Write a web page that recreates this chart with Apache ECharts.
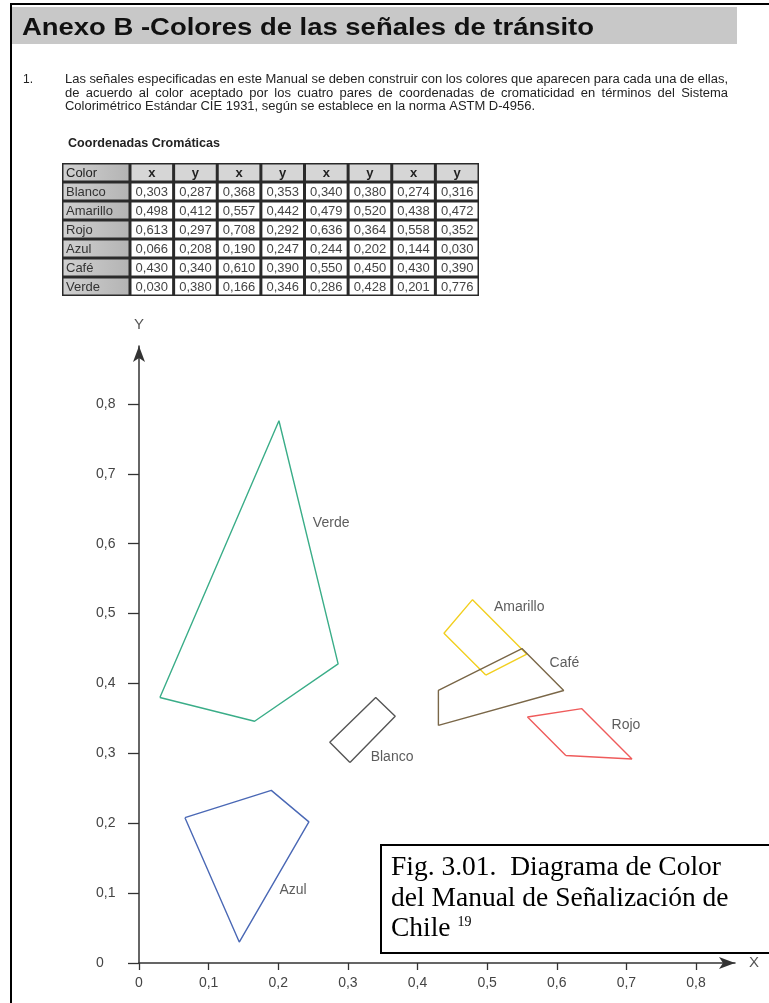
<!DOCTYPE html>
<html><head><meta charset="utf-8">
<script src="https://cdn.jsdelivr.net/npm/echarts@6/dist/echarts.min.js"></script>
<style>html,body{margin:0;padding:0;background:#fff}#c{width:769px;height:1003px}</style>
</head><body><div id="c"></div>
<script>
// ---- data ----
const colorNames = ['Blanco', 'Amarillo', 'Rojo', 'Azul', 'Café', 'Verde'];
const blanco   = [[0.303, 0.287], [0.368, 0.353], [0.340, 0.380], [0.274, 0.316]];
const amarillo = [[0.498, 0.412], [0.557, 0.442], [0.479, 0.520], [0.438, 0.472]];
const rojo     = [[0.613, 0.297], [0.708, 0.292], [0.636, 0.364], [0.558, 0.352]];
const azul     = [[0.066, 0.208], [0.190, 0.247], [0.244, 0.202], [0.144, 0.030]];
const cafe     = [[0.430, 0.340], [0.610, 0.390], [0.550, 0.450], [0.430, 0.390]];
const verde    = [[0.030, 0.380], [0.166, 0.346], [0.286, 0.428], [0.201, 0.776]];
const polygons = [blanco, amarillo, rojo, azul, cafe, verde];
const lineColors = ['#555555', '#f2cf1f', '#ef5b5b', '#4a68b5', '#7a6748', '#3aad88'];
const labelPos = [[0.332, 0.295], [0.509, 0.509], [0.678, 0.340], [0.201, 0.104], [0.589, 0.429], [0.249, 0.629]];
const tableHeader = ['Color', 'x', 'y', 'x', 'y', 'x', 'y', 'x', 'y'];
const axisTicks = [0, 0.1, 0.2, 0.3, 0.4, 0.5, 0.6, 0.7, 0.8];
const titleText = 'Anexo B -Colores de las señales de tránsito';
const paraLines = [
  'Las señales especificadas en este Manual se deben construir con los colores que aparecen para cada una de ellas,',
  'de acuerdo al color aceptado por los cuatro pares de coordenadas de cromaticidad en términos del Sistema',
  'Colorimétrico Estándar CIE 1931, según se establece en la norma ASTM D-4956.'
];
const subTitle = 'Coordenadas Cromáticas';
const captionLines = ['Fig. 3.01.  Diagrama de Color', 'del Manual de Señalización de', 'Chile {sup|19}'];

// ---- helpers ----
const cv = document.createElement('canvas').getContext('2d');
function measure(t, size, weight, family) {
  cv.font = (weight || 'normal') + ' ' + size + 'px ' + family;
  return cv.measureText(t).width;
}
const SANS = '"Liberation Sans", Arial, sans-serif';
const SERIF = '"Liberation Serif", "Times New Roman", serif';
const fmt3 = v => v.toFixed(3).replace('.', ',');
const fmtAxis = v => v === 0 ? '0' : v.toFixed(1).replace('.', ',');

const graphics = [];
// page borders
graphics.push({type: 'rect', shape: {x: 10, y: 3, width: 759, height: 2}, style: {fill: '#000'}, silent: true});
graphics.push({type: 'rect', shape: {x: 10, y: 3, width: 2, height: 1000}, style: {fill: '#000'}, silent: true});
// header band
graphics.push({type: 'rect', shape: {x: 12, y: 7, width: 725, height: 37}, style: {fill: '#c8c8c8'}, silent: true});
{
  const w = measure(titleText, 24, 'bold', SANS);
  graphics.push({type: 'text', x: 22, y: 28, scaleX: 572 / w, silent: true,
    style: {text: titleText, fontSize: 24, fontWeight: 'bold', fontFamily: SANS, fill: '#111', textVerticalAlign: 'middle'}});
}
// paragraph
const PS = 12;
const kPara = 470 / measure(paraLines[2], PS, 'normal', SANS);
graphics.push({type: 'text', x: 23, y: 80, silent: true,
  style: {text: '1.', fontSize: PS, fontFamily: SANS, fill: '#222', textVerticalAlign: 'middle'}});
const lineYs = [80, 94, 107];
paraLines.forEach((line, li) => {
  if (li < 2) {
    const words = line.split(' ');
    const ws = words.map(w => measure(w, PS, 'normal', SANS) * kPara);
    const total = ws.reduce((a, b) => a + b, 0);
    const gap = (663 - total) / (words.length - 1);
    let x = 65;
    words.forEach((w, i) => {
      graphics.push({type: 'text', x: x, y: lineYs[li], scaleX: kPara, silent: true,
        style: {text: w, fontSize: PS, fontFamily: SANS, fill: '#222', textVerticalAlign: 'middle'}});
      x += ws[i] + gap;
    });
  } else {
    graphics.push({type: 'text', x: 65, y: lineYs[li], scaleX: kPara, silent: true,
      style: {text: line, fontSize: PS, fontFamily: SANS, fill: '#222', textVerticalAlign: 'middle'}});
  }
});
{
  const w = measure(subTitle, 12, 'bold', SANS);
  graphics.push({type: 'text', x: 68, y: 144, scaleX: 152 / w, silent: true,
    style: {text: subTitle, fontSize: 12, fontWeight: 'bold', fontFamily: SANS, fill: '#222', textVerticalAlign: 'middle'}});
}
// table
{
  const tx = 62, ty = 163, c0 = 68, cw = (479 - 62 - 68) / 8, rh = 19;
  const tw = c0 + cw * 8, th = rh * 7;
  graphics.push({type: 'rect', shape: {x: tx, y: ty, width: tw, height: th}, style: {fill: '#2a2a2a'}, silent: true});
  for (let r = 0; r < 7; r++) {
    for (let c = 0; c < 9; c++) {
      const x = c === 0 ? tx : tx + c0 + (c - 1) * cw;
      const w = c === 0 ? c0 : cw;
      const y = ty + r * rh;
      let fill = '#ffffff';
      if (r === 0 && c > 0) fill = '#d6d6d6';
      if (c === 0) fill = new echarts.graphic.LinearGradient(0, 0, 1, 0, [{offset: 0, color: '#d0d0d0'}, {offset: 1, color: '#b4b4b4'}]);
      graphics.push({type: 'rect', shape: {x: x + 1.5, y: y + 1.5, width: w - 3, height: rh - 3}, style: {fill: fill}, silent: true});
      let text, align, weight = 'normal', color = '#444';
      if (r === 0) {
        text = tableHeader[c];
        align = c === 0 ? 'left' : 'center';
        weight = c === 0 ? 'normal' : 'bold';
        color = '#222';
      } else if (c === 0) {
        text = colorNames[r - 1]; align = 'left'; color = '#333';
      } else {
        const p = polygons[r - 1][Math.floor((c - 1) / 2)];
        text = fmt3(p[(c - 1) % 2]); align = 'center';
      }
      graphics.push({type: 'text', x: align === 'left' ? x + 4 : x + w / 2, y: y + rh / 2 + 0.5, silent: true,
        style: {text: text, fontSize: 13, fontWeight: weight, fontFamily: SANS, fill: color,
          textAlign: align, textVerticalAlign: 'middle'}});
    }
  }
}
// caption box
graphics.push({type: 'rect', z: 100, shape: {x: 381, y: 845, width: 400, height: 108},
  style: {fill: '#fff', stroke: '#000', lineWidth: 2}, silent: true});
const capYs = [868, 899, 929];
captionLines.forEach((t, i) => {
  graphics.push({type: 'text', z: 101, x: 391, y: capYs[i], silent: true,
    style: {text: t, fontSize: 27.5, fontFamily: SERIF, fill: '#000', textVerticalAlign: 'middle',
      rich: {sup: {fontSize: 14, fontFamily: SERIF, fill: '#000', verticalAlign: 'top', padding: [0, 0, 12, 0]}}}});
});

// ---- chart ----
const series = polygons.map((pts, i) => ({
  type: 'line', name: colorNames[i], data: pts.concat([pts[0]]),
  symbol: 'none', showSymbol: false, silent: true, z: 3,
  lineStyle: {color: lineColors[i], width: 1.4}
}));
series.push({
  type: 'scatter', symbolSize: 1, silent: true, z: 4,
  itemStyle: {color: 'rgba(0,0,0,0)'},
  data: colorNames.map((n, i) => ({name: n, value: labelPos[i]})),
  label: {show: true, position: 'right', distance: 0, formatter: '{b}', color: '#333',
    fontSize: 14, fontFamily: SANS}
});

const axisCommon = {
  type: 'value', min: 0, splitLine: {show: false},
  axisLine: {show: true, onZero: false, symbol: ['none', 'arrow'], symbolSize: [9, 16],
    lineStyle: {color: '#333', width: 1.5}},
  axisLabel: {customValues: axisTicks, formatter: fmtAxis, color: '#444', fontSize: 14, fontFamily: SANS},
  nameTextStyle: {color: '#555', fontSize: 15, fontFamily: SANS}
};

const option = {
  animation: false,
  backgroundColor: '#fff',
  grid: {left: 139, top: 346, width: 596, height: 617, containLabel: false, outerBoundsMode: 'none'},
  xAxis: Object.assign({}, axisCommon, {
    max: 0.856, name: 'X', nameGap: 14,
    axisTick: {show: true, customValues: axisTicks, length: 7, lineStyle: {color: '#333', width: 1.3}},
    axisLabel: Object.assign({}, axisCommon.axisLabel, {margin: 13}),
    nameTextStyle: Object.assign({}, axisCommon.nameTextStyle, {verticalAlign: 'middle'})
  }),
  yAxis: Object.assign({}, axisCommon, {
    max: 0.883, name: 'Y', nameGap: 14,
    axisTick: {show: true, customValues: axisTicks, length: 11, lineStyle: {color: '#333', width: 1.3}},
    axisLabel: Object.assign({}, axisCommon.axisLabel, {align: 'left', margin: 43}),
    nameTextStyle: Object.assign({}, axisCommon.nameTextStyle, {align: 'center'})
  }),
  series: series,
  graphic: {elements: graphics}
};
const chart = echarts.init(document.getElementById('c'), null, {renderer: 'canvas'});
chart.setOption(option);
</script></body></html>
